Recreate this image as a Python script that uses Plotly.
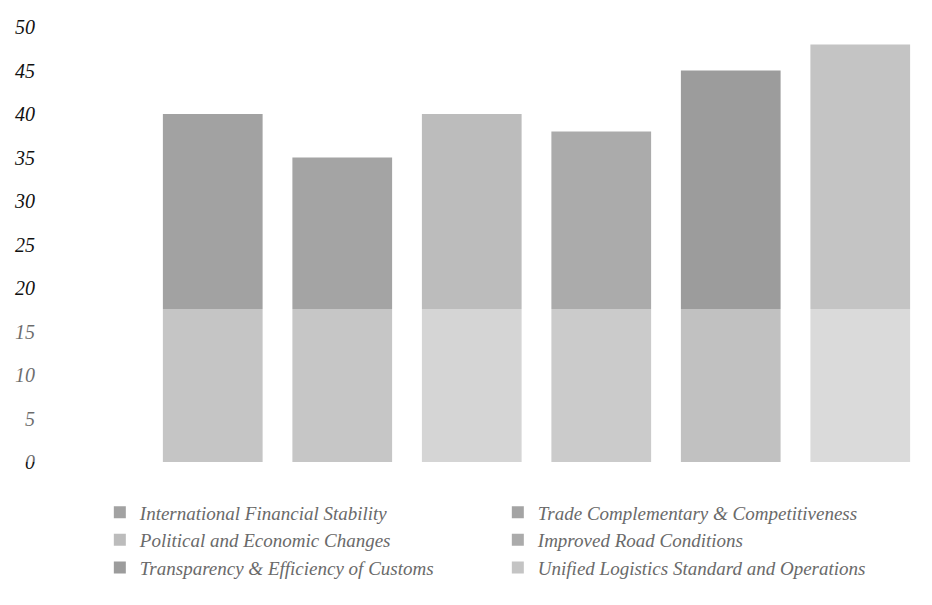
import plotly.graph_objects as go

categories = [
    "International Financial Stability",
    "Trade Complementary & Competitiveness",
    "Political and Economic Changes",
    "Improved Road Conditions",
    "Transparency & Efficiency of Customs",
    "Unified Logistics Standard and Operations",
]
values = [40, 35, 40, 38, 45, 48]
colors = ["#a2a2a2", "#a4a4a4", "#bcbcbc", "#ababab", "#9c9c9c", "#c4c4c4"]
tick_vals = [0, 5, 10, 15, 20, 25, 30, 35, 40, 45, 50]

fig = go.Figure()
for cat, val, col in zip(categories, values, colors):
    fig.add_trace(go.Bar(
        x=[cat], y=[val], name=cat,
        marker=dict(color=col, line=dict(width=0)),
        width=0.77,
    ))

serif = "Liberation Serif"
fig.update_layout(
    width=932, height=605,
    margin=dict(l=148, r=7, t=27, b=143),
    paper_bgcolor="white", plot_bgcolor="white",
    showlegend=True,
    barmode="overlay",
    xaxis=dict(showticklabels=False, showgrid=False, zeroline=False,
               showline=False, categoryorder="array", categoryarray=categories),
    yaxis=dict(range=[0, 50], tickvals=tick_vals, showgrid=False, zeroline=False,
               showline=False, ticklabelstandoff=112,
               tickfont=dict(family=serif, size=20, color="#111", style="italic")),
    legend=dict(orientation="h", x=-0.062, xanchor="left", y=-0.072, yanchor="top",
                entrywidth=353, entrywidthmode="pixels", itemwidth=30,
                tracegroupgap=0,
                font=dict(family=serif, size=19, color="#6a6a6a", style="italic")),
    shapes=[dict(type="rect", xref="paper", yref="y", x0=-0.25, x1=1.02,
                 y0=-3, y1=17.6, fillcolor="rgba(255,255,255,0.38)",
                 line=dict(width=0), layer="above")],
)

fig.write_html("out.html")
